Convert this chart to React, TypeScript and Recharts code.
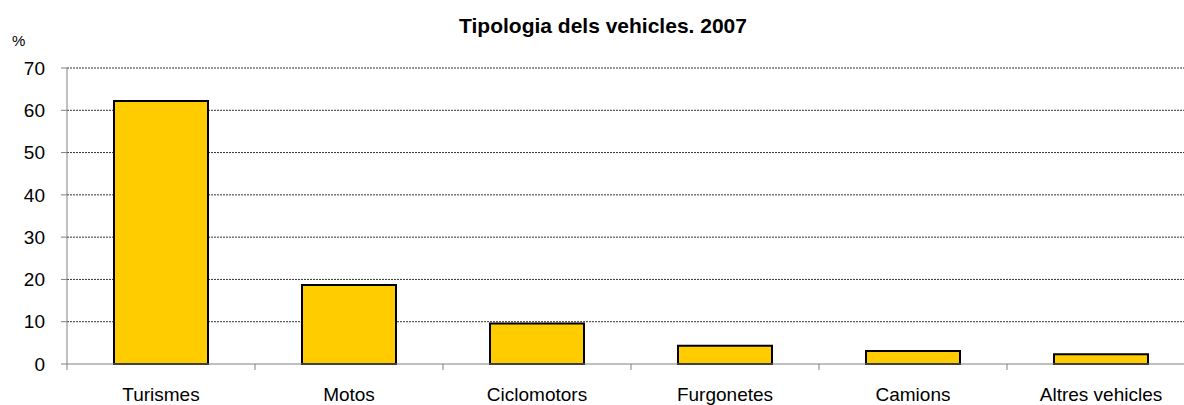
import { BarChart, Bar, XAxis, YAxis, CartesianGrid } from "recharts";

const categories = ["Turismes", "Motos", "Ciclomotors", "Furgonetes", "Camions", "Altres vehicles"];
const percentages = [62.2, 18.7, 9.6, 4.3, 3.1, 2.3];
const yTicks = [0, 10, 20, 30, 40, 50, 60, 70];
const gridValues = [10, 20, 30, 40, 50, 60, 70];

const data = categories.map((name, i) => ({ name, value: percentages[i] }));

const font = "'Liberation Sans', Arial, sans-serif";

// label in the middle of the band, tick marks on the band edges
function CategoryTick({ x, y, payload, index }: any) {
  const half = payload.offset ?? 0;
  const last = index === categories.length - 1;
  return (
    <g>
      <line x1={x - half} y1={y} x2={x - half} y2={y + 6} stroke="#808080" />
      {last && <line x1={x + half} y1={y} x2={x + half} y2={y + 6} stroke="#808080" />}
      <text x={x} y={y + 37} textAnchor="middle" fill="#000" fontSize={19} fontFamily={font}>
        {payload.value}
      </text>
    </g>
  );
}

export default function App() {
  return (
    <div
      style={{
        position: "absolute",
        left: 0,
        top: 0,
        width: 1184,
        height: 405,
        overflow: "hidden",
        background: "#fff",
        fontFamily: font,
      }}
    >
      {/* Title */}
      <div
        style={{
          position: "absolute",
          left: 603,
          top: 15,
          transform: "translateX(-50%)",
          fontSize: 21,
          lineHeight: "21px",
          fontWeight: "bold",
          whiteSpace: "nowrap",
          color: "#000",
        }}
      >
        Tipologia dels vehicles. 2007
      </div>
      <div
        style={{
          position: "absolute",
          left: 12,
          top: 33,
          fontSize: 15,
          lineHeight: "15px",
          color: "#000",
        }}
      >
        %
      </div>

      <BarChart
        width={1200}
        height={405}
        data={data}
        margin={{ top: 68, right: 5, left: 0, bottom: 0 }}
        barCategoryGap="25%"
      >
        <CartesianGrid
          vertical={false}
          horizontalValues={gridValues}
          stroke="#333"
          strokeDasharray="2 1"
        />
        <XAxis
          dataKey="name"
          height={41}
          interval={0}
          axisLine={{ stroke: "#808080" }}
          tickLine={false}
          tickSize={0}
          tickMargin={0}
          tick={<CategoryTick />}
        />
        <YAxis
          width={67}
          domain={[0, 70]}
          ticks={yTicks}
          interval={0}
          axisLine={{ stroke: "#808080" }}
          tickLine={{ stroke: "#808080" }}
          tickSize={6}
          tickMargin={16}
          tick={{ fill: "#000", fontSize: 19, fontFamily: font }}
        />
        <Bar
          dataKey="value"
          fill="#FFCC00"
          stroke="#000"
          strokeWidth={2}
          isAnimationActive={false}
        />
      </BarChart>
    </div>
  );
}
